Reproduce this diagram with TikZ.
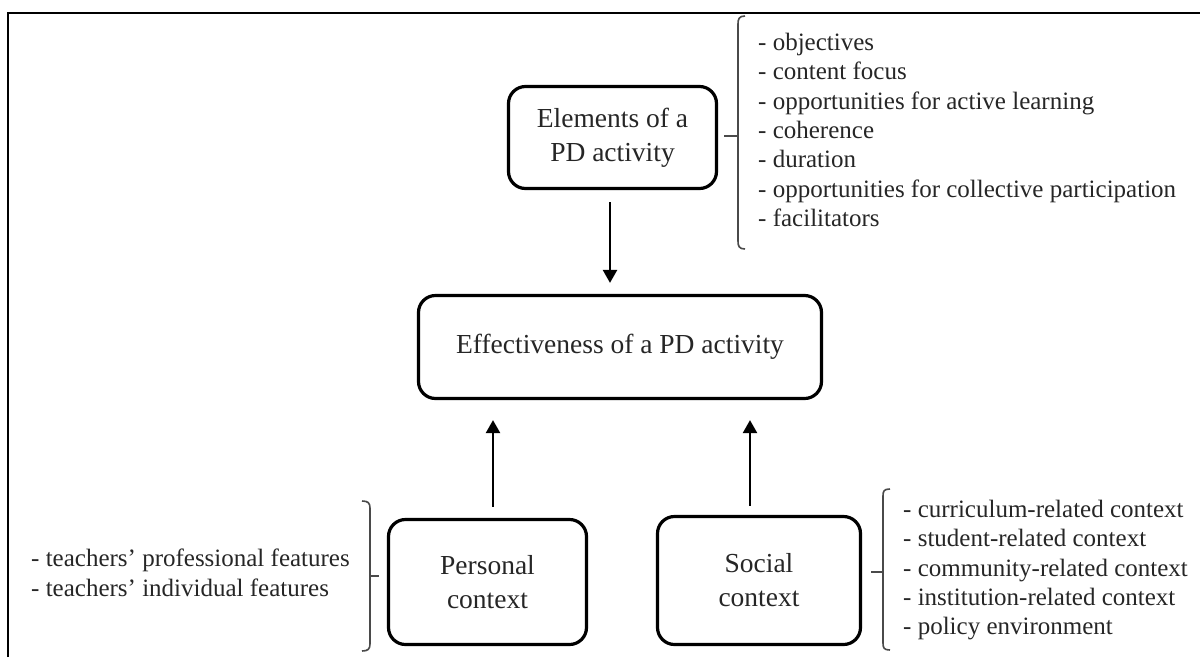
\documentclass[tikz,border=0pt]{standalone}
\usepackage{fontspec}
\setmainfont{Liberation Serif}
\usetikzlibrary{arrows.meta,calc}
\definecolor{txt}{HTML}{262626}
\definecolor{bracegray}{HTML}{4A4A4A}
\newcommand\bxfont{\fontsize{27.5}{34}\selectfont}
\newcommand\lsfont{\fontsize{25}{29.3}\selectfont}
\begin{document}
\begin{tikzpicture}[x=1pt,y=-1pt,
  box/.style={draw=black, line width=3.2pt, rounded corners=17pt, align=center, font=\bxfont, text=txt, inner sep=0pt},
  arr/.style={-{Triangle[length=13pt,width=14pt]}, line width=2.4pt},
  brace/.style={draw=bracegray, line width=1.6pt},
  list/.style={align=left, font=\lsfont, text=txt, inner sep=0pt, anchor=north west}]
\useasboundingbox (0,0) rectangle (1200,657);
% frame
\draw[line width=2pt] (8,657) -- (8,13) -- (1200,13);
% boxes
\node[box, minimum width=208pt, minimum height=102pt] (elem) at (612.5,137.5) {Elements of a\\PD activity};
\node[box, minimum width=403pt, minimum height=103pt] (eff) at (620,347) {Effectiveness of a PD activity};
\node[box, minimum width=198pt, minimum height=125pt] (pers) at (487.5,582) {Personal\\context};
\node[box, minimum width=203pt, minimum height=128pt] (soc) at (759,580.5) {Social\\context};
% arrows
\draw[arr, shorten <=12pt, shorten >=11pt] ([xshift=-2.5pt]elem.south) -- ([xshift=-2.5pt]elem.south |- eff.north);
\draw[arr, shorten <=11pt, shorten >=20pt] ([xshift=5.5pt]pers.north) -- ([xshift=5.5pt]pers.north |- eff.south);
\draw[arr, shorten <=9pt, shorten >=20pt] ([xshift=-9pt]soc.north) -- ([xshift=-9pt]soc.north |- eff.south);
% lists
\node[list] (lelem) at (758,33) {- objectives\\- content focus\\- opportunities for active learning\\- coherence\\- duration\\- opportunities for collective participation\\- facilitators};
\node[list] (lpers) at (31,549) {- teachers’ professional features\\- teachers’ individual features};
\node[list] (lsoc) at (903,500) {- curriculum-related context\\- student-related context\\- community-related context\\- institution-related context\\- policy environment};
% braces
\draw[brace] (745,16) .. controls (739,16) and (738,19) .. (738,24) -- (738,241) .. controls (738,246) and (739,249) .. (745,249);
\draw[brace] (738,136) -- (724,136);
\draw[brace] (362,501) .. controls (368,501) and (370,503) .. (370,508) -- (370,644) .. controls (370,649) and (368,651) .. (362,651);
\draw[brace] (370,576) -- (379,576);
\draw[brace] (890,489) .. controls (884,489) and (883,491) .. (883,496) -- (883,643) .. controls (883,648) and (884,650) .. (890,650);
\draw[brace] (883,572) -- (871,572);
\end{tikzpicture}
\end{document}
